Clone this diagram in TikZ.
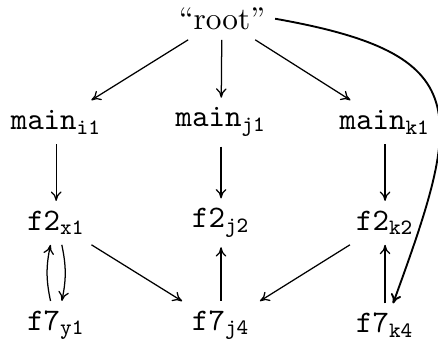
\documentclass[tikz,border=0pt]{standalone}
\usetikzlibrary{positioning,arrows.meta}
\tikzset{
  obj/.style={inner sep=3pt,font=\normalsize},
  arr/.style={-{To[length=3pt,width=3.4pt]},line width=0.4pt},
  bigarr/.style={arr,line width=0.6pt},
}

\begin{document}
\begin{tikzpicture}
\useasboundingbox (0,0) rectangle (4.914,-3.848);

% =====================================================================
%  TOP -- root
% =====================================================================
\node[obj] (root) at (2.49,-0.21) {``root''};

% =====================================================================
%  ROWS -- main, f2, f7
% =====================================================================
\node[obj] (mi1) at (0.63,-1.37) {$\mathtt{main}_{\mathtt{i1}}$};
\node[obj] (mj1) at (2.48,-1.37) {$\mathtt{main}_{\mathtt{j1}}$};
\node[obj] (mk1) at (4.32,-1.37) {$\mathtt{main}_{\mathtt{k1}}$};

\node[obj] (fx1) at (0.63,-2.50) {$\mathtt{f2}_{\mathtt{x1}}$};
\node[obj] (fj2) at (2.48,-2.50) {$\mathtt{f2}_{\mathtt{j2}}$};
\node[obj] (fk2) at (4.32,-2.50) {$\mathtt{f2}_{\mathtt{k2}}$};

\node[obj] (gy1) at (0.63,-3.65) {$\mathtt{f7}_{\mathtt{y1}}$};
\node[obj] (gj4) at (2.48,-3.65) {$\mathtt{f7}_{\mathtt{j4}}$};
\node[obj] (gk4) at (4.32,-3.65) {$\mathtt{f7}_{\mathtt{k4}}$};

% ----- root -> main -----
\draw[arr] (root) -- (mi1);
\draw[arr] (root) -- (mj1);
\draw[arr] (root) -- (mk1);

% root -> f7_k4 (long curve round the right side)
\draw[bigarr] (root.east) to[out=-10,in=70,looseness=1.7] (gk4.70);

% ----- main -> f2 -----
\draw[arr] (mi1) -- (fx1);
\draw[arr] (mj1) -- (fj2);
\draw[arr] (mk1) -- (fk2);

% ----- f2 <-> f7 -----
\draw[arr] ([xshift=-1.8pt]gy1.north) to[bend left=12] ([xshift=-1.8pt]fx1.south);
\draw[arr] ([xshift=1.8pt]fx1.south) to[bend left=12] ([xshift=1.8pt]gy1.north);
\draw[arr] (fx1) -- (gj4);
\draw[arr] (gj4) -- (fj2);
\draw[arr] (fk2) -- (gj4);
\draw[arr] (gk4) -- (fk2);

\end{tikzpicture}
\end{document}
